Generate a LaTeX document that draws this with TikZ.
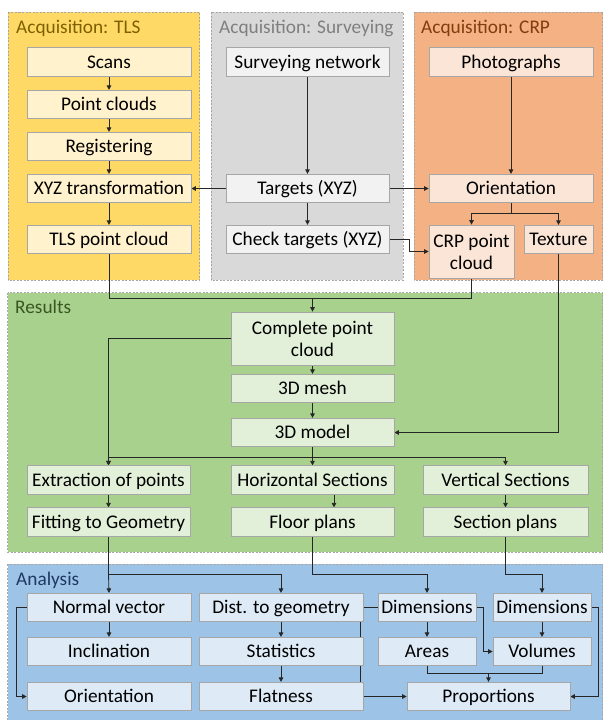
\documentclass[tikz,border=0pt]{standalone}
\usepackage{fontspec}
\setmainfont{Carlito}
\usetikzlibrary{arrows.meta}
\definecolor{tlsP}{HTML}{FFD966}\definecolor{tlsB}{HTML}{FFF2CC}\definecolor{tlsT}{HTML}{7F6000}
\definecolor{surP}{HTML}{D9D9D9}\definecolor{surB}{HTML}{F2F2F2}\definecolor{surT}{HTML}{7F7F7F}
\definecolor{crpP}{HTML}{F4B183}\definecolor{crpB}{HTML}{FBE5D6}\definecolor{crpT}{HTML}{843C0C}
\definecolor{resP}{HTML}{A9D18E}\definecolor{resB}{HTML}{E2F0D9}\definecolor{resT}{HTML}{385723}
\definecolor{anaP}{HTML}{9DC3E6}\definecolor{anaB}{HTML}{DEEBF7}\definecolor{anaT}{HTML}{1F3864}
\definecolor{bord}{HTML}{A6A6A6}\definecolor{lin}{HTML}{262626}
\pgfdeclarelayer{bg}\pgfdeclarelayer{mid}\pgfsetlayers{bg,mid,main}
\tikzset{
  panel/.style={draw=bord, dashed, dash pattern=on 2pt off 1.5pt, line width=0.6pt},
  ptitle/.style={anchor=base west, inner sep=0pt, font=\fontsize{19.3}{22}\selectfont},
  box/.style={draw=bord, line width=0.7pt, inner sep=0pt, align=center, font=\fontsize{19.3}{22}\selectfont},
  one/.style={text height=14pt, text depth=2pt},
  wd/.style={minimum width=#1pt},
  ht/.style={minimum height=#1pt},
  conn/.style={draw=lin, line width=0.8pt},
  arr/.style={conn, -{Triangle[length=4.5pt,width=4.5pt]}},
}
\begin{document}
\begin{tikzpicture}[x=1pt,y=-1pt]
\useasboundingbox (0,0) rectangle (603,720);
% panels
\begin{pgfonlayer}{bg}
\fill[white] (0,0) rectangle (603,720);
\draw[panel, fill=tlsP] (8,12) rectangle (199.5,280);
\draw[panel, fill=surP] (211,12) rectangle (403,280);
\draw[panel, fill=crpP] (414,12) rectangle (602.5,280);
\draw[panel, fill=resP] (7.5,292.5) rectangle (602.5,552);
\draw[panel, fill=anaP] (7.5,564) rectangle (602.5,720.5);
\end{pgfonlayer}
\node[ptitle, text=tlsT] (tTLS) at (16,33) {Acquisition: TLS};
\node[ptitle, text=surT] (tSUR) at (219,33) {Acquisition: Surveying};
\node[ptitle, text=crpT] (tCRP) at (421,33) {Acquisition: CRP};
\node[ptitle, text=resT] (tRES) at (15,313) {Results};
\node[ptitle, text=anaT] (tANA) at (16,585) {Analysis};
% TLS
\tikzset{tb/.style={box, one, fill=tlsB, wd=164, ht=28.5}}
\node[tb] (scans) at (109,62) {Scans};
\node[tb] (pc) at (109,104.5) {Point clouds};
\node[tb] (reg) at (109,146.5) {Registering};
\node[tb] (xyz) at (109,188.5) {XYZ transformation};
\node[tb] (tlspc) at (109,239.5) {TLS point cloud};
% Surveying
\tikzset{sb/.style={box, one, fill=surB, wd=163, ht=28.5}}
\node[sb] (survnet) at (307.5,62) {Surveying network};
\node[sb] (targets) at (307.5,188.5) {Targets (XYZ)};
\node[sb] (check) at (307.5,239.5) {Check targets (XYZ)};
% CRP
\tikzset{cb/.style={box, fill=crpB, ht=28.5}}
\node[cb, one, wd=164] (photos) at (511,62) {Photographs};
\node[cb, one, wd=164] (orient) at (511,188.5) {Orientation};
\node[cb, wd=85, ht=53] (crppc) at (471.5,251.5) {CRP point\\cloud};
\node[cb, one, wd=69] (texture) at (558.5,239.5) {Texture};
% Results
\tikzset{rb/.style={box, fill=resB, wd=163, ht=28.5}}
\node[rb, ht=53] (cpc) at (312.5,338.5) {Complete point\\cloud};
\node[rb, one] (mesh) at (312.5,388.5) {3D mesh};
\node[rb, one] (model) at (312.5,432.5) {3D model};
\node[rb, one] (extract) at (108.5,480) {Extraction of points};
\node[rb, one] (hsec) at (312.5,480) {Horizontal Sections};
\node[rb, one, wd=165] (vsec) at (505.5,480) {Vertical Sections};
\node[rb, one] (fit) at (108.5,522) {Fitting to Geometry};
\node[rb, one] (floor) at (312.5,522) {Floor plans};
\node[rb, one, wd=165] (secpl) at (505.5,522) {Section plans};
% Analysis
\tikzset{ab/.style={box, one, fill=anaB, ht=28.5}}
\node[ab, wd=164] (normal) at (109,607.5) {Normal vector};
\node[ab, wd=164] (incl) at (109,651.5) {Inclination};
\node[ab, wd=164] (orient2) at (109,696.5) {Orientation};
\node[ab, wd=164] (dist) at (281,607.5) {Dist. to geometry};
\node[ab, wd=164] (stats) at (281,651.5) {Statistics};
\node[ab, wd=164] (flat) at (281,696.5) {Flatness};
\node[ab, wd=98] (dim1) at (427,607.5) {Dimensions};
\node[ab, wd=98] (areas) at (427,651.5) {Areas};
\node[ab, wd=98] (dim2) at (542,607.5) {Dimensions};
\node[ab, wd=98] (vol) at (542,651.5) {Volumes};
\node[ab, wd=163] (prop) at (488.5,696.5) {Proportions};
% connectors
\begin{pgfonlayer}{mid}
\draw[arr] (scans) -- (pc);
\draw[arr] (pc) -- (reg);
\draw[arr] (reg) -- (xyz);
\draw[arr] (xyz) -- (tlspc);
\draw[arr] (survnet) -- (targets);
\draw[arr] (targets) -- (check);
\draw[arr] (targets) -- (xyz);
\draw[arr] (targets) -- (orient);
\draw[arr] (check.east) -- (409,239.5) |- (crppc.west);
\draw[arr] (photos) -- (orient);
\coordinate (oj) at (511,213);
\draw[conn] (orient.south) -- (oj);
\draw[arr] (oj) -| (crppc.north);
\draw[arr] (oj) -| (texture.north);
\coordinate (rj) at (312.5,298);
\draw[conn] (tlspc.south) |- (rj);
\draw[conn] (crppc.south) |- (rj);
\draw[arr] (rj) -- (cpc.north);
\draw[arr] (cpc) -- (mesh);
\draw[arr] (mesh) -- (model);
\draw[arr] (texture.south) |- (model.east);
\coordinate (mj) at (312.5,457);
\draw[conn] (model.south) -- (mj);
\draw[arr] (mj) -- (hsec.north);
\draw[arr] (mj) -| (extract.north);
\draw[arr] (mj) -| (vsec.north);
\draw[arr] (cpc.west) -| (extract.north);
\draw[arr] (extract) -- (fit);
\draw[arr] (hsec.south -| 334,0) -- (floor.north -| 334,0);
\draw[arr] (vsec) -- (secpl);
\coordinate (fj) at (108.5,574);
\draw[conn] (fit.south) -- (fj);
\draw[arr] (fj) -- (normal.north);
\draw[arr] (fj) -| (dist.north);
\draw[arr] (floor.south) -- (312.5,574) -| (dim1.north);
\draw[arr] (secpl.south) -- (505.5,574) -| (dim2.north);
\draw[arr] (normal) -- (incl);
\draw[arr] (normal.west) -- (16,607.5) |- (orient2.west);
\draw[arr] (dist) -- (stats);
\draw[arr] (stats) -- (flat);
\draw[arr] (flat) -- (prop);
\draw[conn] (dim1.west) -- (360,607.5) -- (360,696.5);
\draw[arr] (dim1) -- (areas);
\draw[arr] (dim1.east) -- (483,607.5) |- (vol.west);
\draw[arr] (dim2) -- (vol);
\draw[arr] (dim2.east) -- (598,607.5) |- (prop.east);
\coordinate (pj) at (488.5,673);
\draw[conn] (areas.south) |- (pj);
\draw[conn] (vol.south) |- (pj);
\draw[arr] (pj) -- (prop.north);
\end{pgfonlayer}
\end{tikzpicture}
\end{document}
